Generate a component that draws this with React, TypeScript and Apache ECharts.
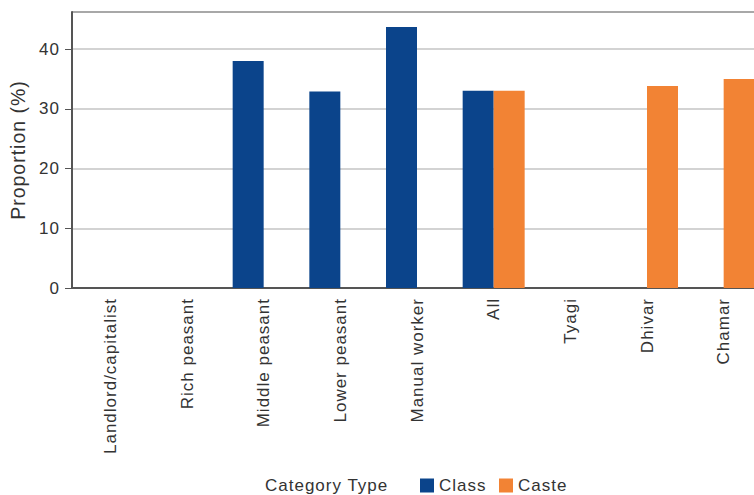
import React, { useEffect, useRef } from "react";
import * as echarts from "echarts";

const categories = [
  "Landlord/capitalist",
  "Rich peasant",
  "Middle peasant",
  "Lower peasant",
  "Manual worker",
  "All",
  "Tyagi",
  "Dhivar",
  "Chamar",
];
const classValues: (number | null)[] = [null, null, 38.0, 32.9, 43.7, 33.0, null, null, null];
const casteValues: (number | null)[] = [null, null, null, null, null, 33.0, null, 33.8, 35.0];
const yTicks = [0, 10, 20, 30, 40];

const BLUE = "#0b448b";
const ORANGE = "#f28334";
const FONT = "Liberation Sans, Arial, sans-serif";
const TXT = "#333333";

export default function App() {
  const ref = useRef<HTMLDivElement>(null);
  useEffect(() => {
    if (!ref.current) return;
    const chart = echarts.init(ref.current, undefined, { renderer: "svg" });
    chart.setOption({
      animation: false,
      backgroundColor: "#ffffff",
      textStyle: { fontFamily: FONT },
      grid: { left: 72, top: 12, width: 690, bottom: 207, containLabel: false },
      legend: {
        data: ["Class", "Caste"],
        left: 420,
        top: 477,
        padding: 0,
        icon: "rect",
        itemWidth: 14,
        itemHeight: 14,
        itemGap: 17.5,
        textStyle: { fontSize: 17, color: TXT, fontFamily: FONT },
      },
      graphic: [
        {
          type: "text",
          left: 265,
          top: 477,
          style: { text: "Category Type", fontSize: 17, fill: TXT, fontFamily: FONT },
        },
        {
          type: "line",
          shape: { x1: 72, y1: 12, x2: 800, y2: 12 },
          style: { stroke: "#555", lineWidth: 2 },
        },
      ],
      xAxis: {
        type: "category",
        data: categories,
        axisLine: { show: true, lineStyle: { color: "#555", width: 2 } },
        axisTick: { show: false },
        axisLabel: {
          rotate: 90,
          interval: 0,
          fontSize: 17,
          color: TXT,
          margin: 10,
          fontFamily: FONT,
        },
      },
      yAxis: {
        type: "value",
        min: 0,
        max: 46.2,
        interval: 10,
        name: "Proportion (%)",
        nameLocation: "middle",
        nameGap: 44,
        nameTextStyle: { fontSize: 19.5, color: TXT, fontFamily: FONT },
        axisLine: { show: true, lineStyle: { color: "#555", width: 2 } },
        axisTick: { show: true, length: 7, lineStyle: { color: "#555" } },
        axisLabel: {
          fontSize: 17,
          color: TXT,
          margin: 12,
          fontFamily: FONT,
          formatter: (v: number) => (yTicks.includes(v) ? String(v) : ""),
          showMaxLabel: false,
        },
        splitLine: { show: true, lineStyle: { color: "#c4c4c4", width: 1.5 } },
      },
      series: [
        {
          name: "Class",
          type: "bar",
          data: classValues,
          barWidth: 31,
          barGap: "0%",
          itemStyle: { color: BLUE },
        },
        {
          name: "Caste",
          type: "bar",
          data: casteValues,
          barWidth: 31,
          barGap: "0%",
          itemStyle: { color: ORANGE },
        },
      ],
    });
    return () => chart.dispose();
  }, []);
  return (
    <div
      style={{
        position: "fixed",
        left: 0,
        top: 0,
        width: 754,
        height: 495,
        overflow: "hidden",
        background: "#fff",
        letterSpacing: "1px",
      }}
    >
      <div ref={ref} style={{ width: 800, height: 495 }} />
    </div>
  );
}
